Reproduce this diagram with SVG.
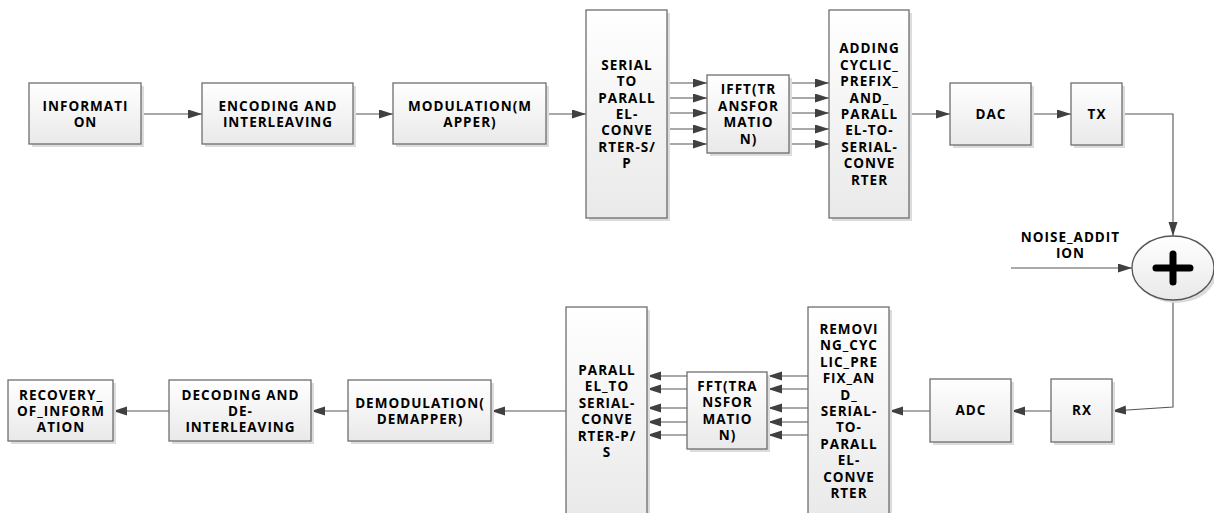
<svg xmlns="http://www.w3.org/2000/svg" width="1214" height="513" viewBox="0 0 1214 513">
  <defs>
    <linearGradient id="boxFill" x1="0" y1="0" x2="0" y2="1">
      <stop offset="0" stop-color="#ffffff"/>
      <stop offset="1" stop-color="#e9e9e9"/>
    </linearGradient>
    <marker id="arrow" markerUnits="userSpaceOnUse" markerWidth="15" markerHeight="10" refX="14" refY="4.5" orient="auto">
      <path d="M0,0 L14,4.5 L0,9 Z" fill="#404040"/>
    </marker>
    <style>
      .box { fill: url(#boxFill); stroke: #6e6e6e; stroke-width: 1.3; }
      .shadow { fill: #dcdcdc; }
      .lbl { font-family: "Open Sans", "DejaVu Sans", sans-serif; font-weight: bold; font-size: 13.5px; letter-spacing: 1px; fill: #000; text-anchor: middle; }
      .wire { fill: none; stroke: #555; stroke-width: 1.1; marker-end: url(#arrow); }
    </style>
  </defs>
  <rect width="1214" height="513" fill="#ffffff"/>

  <!-- connectors -->
  <g id="connectors">
    <line class="wire" x1="141" y1="114" x2="202" y2="114"/>
    <line class="wire" x1="353" y1="114" x2="393" y2="114"/>
    <line class="wire" x1="546" y1="114" x2="586" y2="114"/>
    <line class="wire" x1="667" y1="83" x2="707" y2="83"/>
    <line class="wire" x1="667" y1="98" x2="707" y2="98"/>
    <line class="wire" x1="667" y1="113" x2="707" y2="113"/>
    <line class="wire" x1="667" y1="129" x2="707" y2="129"/>
    <line class="wire" x1="667" y1="144" x2="707" y2="144"/>
    <line class="wire" x1="789" y1="83" x2="829" y2="83"/>
    <line class="wire" x1="789" y1="98" x2="829" y2="98"/>
    <line class="wire" x1="789" y1="113" x2="829" y2="113"/>
    <line class="wire" x1="789" y1="129" x2="829" y2="129"/>
    <line class="wire" x1="789" y1="144" x2="829" y2="144"/>
    <line class="wire" x1="909" y1="114" x2="950" y2="114"/>
    <line class="wire" x1="1031" y1="114" x2="1071" y2="114"/>
    <polyline class="wire" points="1122,114 1173,114 1173,236"/>
    <line class="wire" x1="1011" y1="268" x2="1132" y2="268"/>
    <polyline class="wire" points="1173,300 1173,407 1112,411"/>
    <line class="wire" x1="1051" y1="411" x2="1011" y2="411"/>
    <line class="wire" x1="930" y1="411" x2="889" y2="411"/>
    <line class="wire" x1="808" y1="376" x2="768" y2="376"/>
    <line class="wire" x1="808" y1="389" x2="768" y2="389"/>
    <line class="wire" x1="808" y1="408" x2="768" y2="408"/>
    <line class="wire" x1="808" y1="422" x2="768" y2="422"/>
    <line class="wire" x1="808" y1="435" x2="768" y2="435"/>
    <line class="wire" x1="687" y1="376" x2="647" y2="376"/>
    <line class="wire" x1="687" y1="389" x2="647" y2="389"/>
    <line class="wire" x1="687" y1="408" x2="647" y2="408"/>
    <line class="wire" x1="687" y1="422" x2="647" y2="422"/>
    <line class="wire" x1="687" y1="435" x2="647" y2="435"/>
    <line class="wire" x1="566" y1="411" x2="491" y2="411"/>
    <line class="wire" x1="348" y1="411" x2="311" y2="411"/>
    <line class="wire" x1="169" y1="411" x2="113" y2="411"/>
  </g>

  <!-- transmitter chain -->
  <g id="information">
    <rect class="shadow" x="32" y="86" width="112" height="61"/>
    <rect class="box" x="29" y="83" width="112" height="61"/>
    <text class="lbl" x="85.5" y="110.7">INFORMATI<tspan x="85.5" dy="16.4">ON</tspan></text>
  </g>
  <g id="encoding">
    <rect class="shadow" x="205" y="86" width="151" height="61"/>
    <rect class="box" x="202" y="83" width="151" height="61"/>
    <text class="lbl" x="278" y="110.7">ENCODING AND<tspan x="278" dy="16.4">INTERLEAVING</tspan></text>
  </g>
  <g id="modulation">
    <rect class="shadow" x="396" y="86" width="153" height="61"/>
    <rect class="box" x="393" y="83" width="153" height="61"/>
    <text class="lbl" x="470" y="110.7">MODULATION(M<tspan x="470" dy="16.4">APPER)</tspan></text>
  </g>
  <g id="serial-to-parallel">
    <rect class="shadow" x="589" y="13" width="81" height="208"/>
    <rect class="box" x="586" y="10" width="81" height="208"/>
    <text class="lbl" x="627" y="69.7">SERIAL<tspan x="627" dy="16.4">TO</tspan><tspan x="627" dy="16.4">PARALL</tspan><tspan x="627" dy="16.4">EL-</tspan><tspan x="627" dy="16.4">CONVE</tspan><tspan x="627" dy="16.4">RTER-S/</tspan><tspan x="627" dy="16.4">P</tspan></text>
  </g>
  <g id="ifft">
    <rect class="shadow" x="710" y="78" width="82" height="78"/>
    <rect class="box" x="707" y="75" width="82" height="78"/>
    <text class="lbl" x="748.5" y="94.3">IFFT(TR<tspan x="748.5" dy="16.4">ANSFOR</tspan><tspan x="748.5" dy="16.4">MATIO</tspan><tspan x="748.5" dy="16.4">N)</tspan></text>
  </g>
  <g id="add-cyclic-prefix">
    <rect class="shadow" x="832" y="13" width="80" height="208"/>
    <rect class="box" x="829" y="10" width="80" height="208"/>
    <text class="lbl" x="869.5" y="53.3">ADDING<tspan x="869.5" dy="16.4">CYCLIC_</tspan><tspan x="869.5" dy="16.4">PREFIX_</tspan><tspan x="869.5" dy="16.4">AND_</tspan><tspan x="869.5" dy="16.4">PARALL</tspan><tspan x="869.5" dy="16.4">EL-TO-</tspan><tspan x="869.5" dy="16.4">SERIAL-</tspan><tspan x="869.5" dy="16.4">CONVE</tspan><tspan x="869.5" dy="16.4">RTER</tspan></text>
  </g>
  <g id="dac">
    <rect class="shadow" x="953" y="86" width="81" height="62"/>
    <rect class="box" x="950" y="83" width="81" height="62"/>
    <text class="lbl" x="991" y="118.9">DAC</text>
  </g>
  <g id="tx">
    <rect class="shadow" x="1074" y="86" width="51" height="62"/>
    <rect class="box" x="1071" y="83" width="51" height="62"/>
    <text class="lbl" x="1097" y="118.9">TX</text>
  </g>

  <!-- channel -->
  <g id="noise-addition">
    <text class="lbl" x="1070.5" y="241.9">NOISE_ADDIT<tspan x="1070.5" dy="16.4">ION</tspan></text>
  </g>
  <g id="adder">
    <ellipse cx="1176" cy="271" rx="41" ry="32" fill="#dcdcdc"/>
    <ellipse cx="1173" cy="268" rx="41" ry="32" fill="url(#boxFill)" stroke="#555" stroke-width="1.3"/>
    <path d="M1156,268 H1190 M1173,254 V282" stroke="#000" stroke-width="7" stroke-linecap="round"/>
  </g>

  <!-- receiver chain -->
  <g id="rx">
    <rect class="shadow" x="1054" y="382" width="61" height="63"/>
    <rect class="box" x="1051" y="379" width="61" height="63"/>
    <text class="lbl" x="1082" y="415.4">RX</text>
  </g>
  <g id="adc">
    <rect class="shadow" x="933" y="382" width="81" height="63"/>
    <rect class="box" x="930" y="379" width="81" height="63"/>
    <text class="lbl" x="971" y="415.4">ADC</text>
  </g>
  <g id="remove-cyclic-prefix">
    <rect class="shadow" x="811" y="310" width="81" height="213"/>
    <rect class="box" x="808" y="307" width="81" height="213"/>
    <text class="lbl" x="849" y="333.9">REMOVI<tspan x="849" dy="16.4">NG_CYC</tspan><tspan x="849" dy="16.4">LIC_PRE</tspan><tspan x="849" dy="16.4">FIX_AN</tspan><tspan x="849" dy="16.4">D_</tspan><tspan x="849" dy="16.4">SERIAL-</tspan><tspan x="849" dy="16.4">TO-</tspan><tspan x="849" dy="16.4">PARALL</tspan><tspan x="849" dy="16.4">EL-</tspan><tspan x="849" dy="16.4">CONVE</tspan><tspan x="849" dy="16.4">RTER</tspan></text>
  </g>
  <g id="fft">
    <rect class="shadow" x="690" y="375" width="80" height="77"/>
    <rect class="box" x="687" y="372" width="80" height="77"/>
    <text class="lbl" x="727.5" y="390.8">FFT(TRA<tspan x="727.5" dy="16.4">NSFOR</tspan><tspan x="727.5" dy="16.4">MATIO</tspan><tspan x="727.5" dy="16.4">N)</tspan></text>
  </g>
  <g id="parallel-to-serial">
    <rect class="shadow" x="569" y="310" width="81" height="213"/>
    <rect class="box" x="566" y="307" width="81" height="213"/>
    <text class="lbl" x="607" y="374.9">PARALL<tspan x="607" dy="16.4">EL_TO</tspan><tspan x="607" dy="16.4">SERIAL-</tspan><tspan x="607" dy="16.4">CONVE</tspan><tspan x="607" dy="16.4">RTER-P/</tspan><tspan x="607" dy="16.4">S</tspan></text>
  </g>
  <g id="demodulation">
    <rect class="shadow" x="351" y="383" width="143" height="61"/>
    <rect class="box" x="348" y="380" width="143" height="61"/>
    <text class="lbl" x="420" y="407.7">DEMODULATION(<tspan x="420" dy="16.4">DEMAPPER)</tspan></text>
  </g>
  <g id="decoding">
    <rect class="shadow" x="172" y="383" width="142" height="61"/>
    <rect class="box" x="169" y="380" width="142" height="61"/>
    <text class="lbl" x="240.5" y="399.5">DECODING AND<tspan x="240.5" dy="16.4">DE-</tspan><tspan x="240.5" dy="16.4">INTERLEAVING</tspan></text>
  </g>
  <g id="recovery">
    <rect class="shadow" x="11" y="383" width="105" height="61"/>
    <rect class="box" x="8" y="380" width="105" height="61"/>
    <text class="lbl" x="61" y="399.5">RECOVERY_<tspan x="61" dy="16.4">OF_INFORM</tspan><tspan x="61" dy="16.4">ATION</tspan></text>
  </g>
</svg>
